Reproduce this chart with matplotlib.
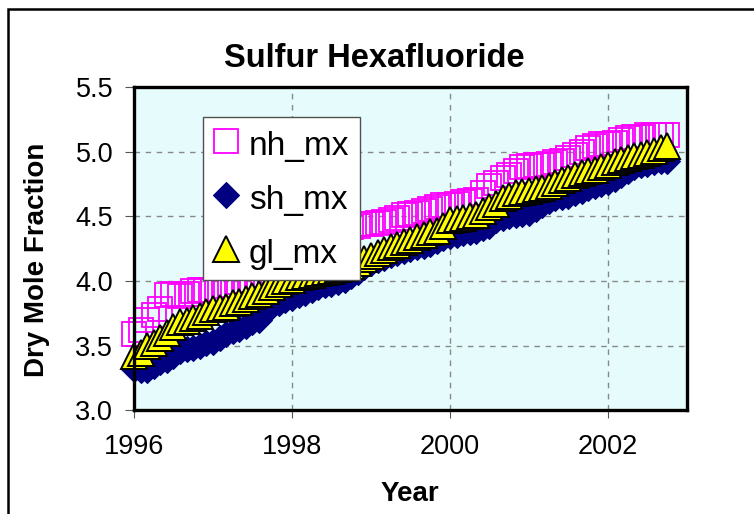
import numpy as np
import matplotlib
matplotlib.use("Agg")
import matplotlib.pyplot as plt
from matplotlib.patches import Rectangle

plt.rcParams['font.family'] = ['Liberation Sans', 'DejaVu Sans']

# monthly means, Jan 1996 .. Oct 2002
start_year = 1996
nh_mx = [3.59, 3.62, 3.70, 3.74, 3.78, 3.89, 3.90, 3.88, 3.90, 3.92, 3.93, 3.93,
         3.93, 3.94, 3.96, 3.97, 3.99, 4.00, 4.01, 4.02, 4.05, 4.08, 4.11, 4.14,
         4.16, 4.19, 4.22, 4.25, 4.28, 4.31, 4.34, 4.37, 4.40, 4.42, 4.43, 4.44,
         4.44, 4.45, 4.46, 4.47, 4.49, 4.51, 4.52, 4.53, 4.54, 4.56, 4.57, 4.59,
         4.59, 4.60, 4.61, 4.62, 4.63, 4.68, 4.74, 4.76, 4.80, 4.82, 4.85, 4.88,
         4.89, 4.90, 4.90, 4.91, 4.92, 4.93, 4.95, 4.98, 5.00, 5.03, 5.05, 5.06,
         5.06, 5.07, 5.09, 5.11, 5.12, 5.12, 5.13, 5.13, 5.13, 5.13]
sh_mx = [3.32, 3.31, 3.31, 3.34, 3.37, 3.39, 3.42, 3.46, 3.47, 3.48, 3.50, 3.52,
         3.53, 3.56, 3.59, 3.61, 3.63, 3.65, 3.68, 3.70, 3.77, 3.81, 3.83, 3.85,
         3.87, 3.89, 3.91, 3.93, 3.95, 3.97, 3.98, 3.99, 4.01, 4.04, 4.07, 4.11,
         4.14, 4.16, 4.18, 4.20, 4.22, 4.23, 4.25, 4.26, 4.27, 4.29, 4.31, 4.33,
         4.35, 4.36, 4.37, 4.38, 4.39, 4.41, 4.43, 4.47, 4.49, 4.50, 4.51, 4.52,
         4.53, 4.56, 4.59, 4.62, 4.64, 4.65, 4.66, 4.68, 4.70, 4.72, 4.74, 4.75,
         4.77, 4.79, 4.82, 4.85, 4.88, 4.90, 4.91, 4.92, 4.93, 4.93]
gl_mx = [3.42, 3.44, 3.50, 3.52, 3.56, 3.60, 3.64, 3.68, 3.69, 3.71, 3.73, 3.76,
         3.78, 3.79, 3.80, 3.83, 3.84, 3.86, 3.88, 3.90, 3.92, 3.95, 3.98, 4.00,
         4.01, 4.03, 4.04, 4.05, 4.06, 4.07, 4.08, 4.09, 4.10, 4.12, 4.14, 4.17,
         4.19, 4.22, 4.24, 4.26, 4.28, 4.30, 4.32, 4.34, 4.36, 4.38, 4.39, 4.43,
         4.47, 4.48, 4.49, 4.50, 4.51, 4.54, 4.57, 4.60, 4.64, 4.66, 4.68, 4.69,
         4.70, 4.71, 4.72, 4.74, 4.76, 4.78, 4.80, 4.82, 4.84, 4.85, 4.86, 4.88,
         4.90, 4.92, 4.94, 4.95, 4.97, 4.98, 4.99, 5.01, 5.03, 5.05]

years = start_year + np.arange(len(nh_mx)) / 12.0

fig = plt.figure(figsize=(7.54, 5.14), dpi=100)
ax = fig.add_axes([0.1777, 0.2023, 0.7334, 0.6275])
ax.set_facecolor('#e6fcfc')

ax.plot(years, nh_mx, ls='none', marker='s', ms=17, mfc='none', mec='#ff00ff',
        mew=1.3, label='nh_mx', clip_on=False)
ax.plot(years, sh_mx, ls='none', marker='D', ms=13.5, mfc='#000080', mec='#000080',
        mew=0.8, label='sh_mx', clip_on=False)
ax.plot(years, gl_mx, ls='none', marker='^', ms=19, mfc='#ffff00', mec='black',
        mew=1.4, label='gl_mx', clip_on=False)

ax.set_xlim(1996, 2003)
ax.set_ylim(3.0, 5.5)
ax.set_xticks([1996, 1998, 2000, 2002])
ax.set_yticks([3.0, 3.5, 4.0, 4.5, 5.0, 5.5])
ax.set_yticklabels(['3.0', '3.5', '4.0', '4.5', '5.0', '5.5'])
ax.tick_params(axis='y', length=6.5, width=0.8, color='#555555', pad=8.5, labelsize=19.5)
ax.tick_params(axis='x', length=6, width=0.8, color='#555555', pad=11, labelsize=19.5)

ax.grid(True, color='#888888', lw=1.0, dashes=(4, 4))
ax.set_axisbelow(True)
for s in ax.spines.values():
    s.set_linewidth(2.4)
    s.set_color('black')

leg = ax.legend(loc='upper left', bbox_to_anchor=(203 / 754, 1 - 117 / 514),
                bbox_transform=fig.transFigure, fontsize=24, frameon=True,
                fancybox=False, borderpad=0.3, handlelength=0.78, handleheight=1.2,
                handletextpad=0.3, labelspacing=0.56, borderaxespad=0)
leg.get_frame().set_edgecolor('#505050')
leg.get_frame().set_linewidth(1.0)
leg.get_frame().set_facecolor('white')
leg.get_frame().set_alpha(1)

fig.text(374 / 754, 1 - 67 / 514, 'Sulfur Hexafluoride', ha='center', va='baseline',
         fontsize=23.5, fontweight='bold')
fig.text(37 / 754, 1 - 260 / 514, 'Dry Mole Fraction', ha='center', va='center',
         rotation=90, fontsize=20, fontweight='bold')
fig.text(410 / 754, 1 - 501 / 514, 'Year', ha='center', va='baseline',
         fontsize=20, fontweight='bold')

fig.patches.append(Rectangle((8 / 754, -0.1), 1.2, 1.1 - 9 / 514, transform=fig.transFigure,
                             fill=False, ec='black', lw=1.8))

fig.savefig('out.png', dpi=100)
